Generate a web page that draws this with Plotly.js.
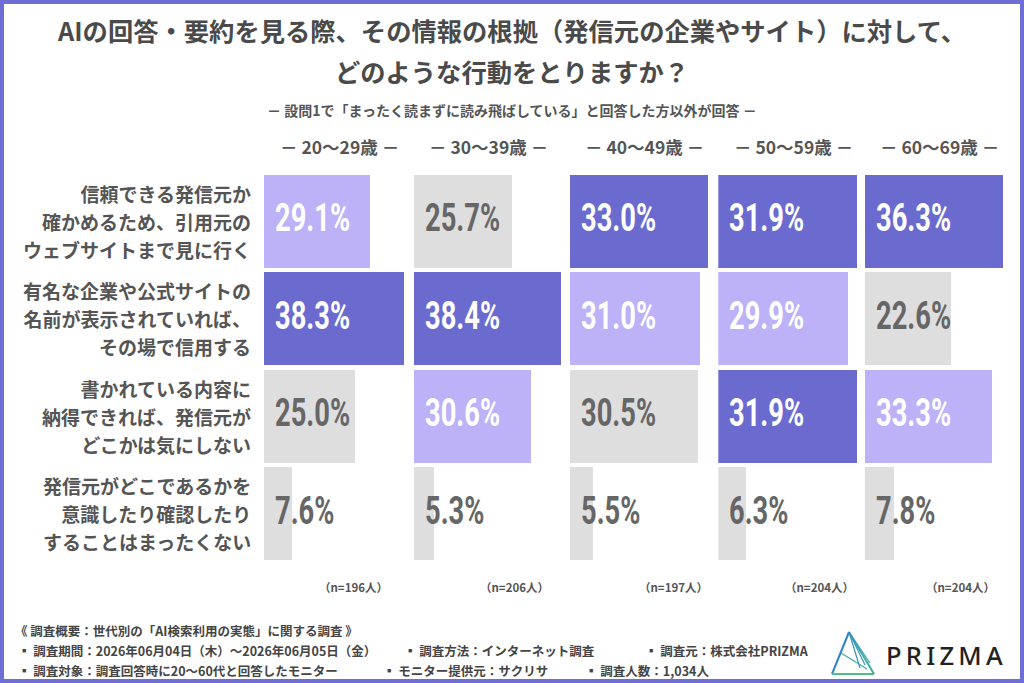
<!DOCTYPE html>
<html>
<head>
<meta charset="utf-8">
<script src="https://cdn.plot.ly/plotly-3.0.1.min.js"></script>
<style>
  html, body { margin: 0; padding: 0; background: #fff; }
  #chart { width: 1024px; height: 683px; }
</style>
</head>
<body>
<div id="chart"></div>
<script>
// ---- survey data ----
const ageGroups = ['20～29歳', '30～39歳', '40～49歳', '50～59歳', '60～69歳'];
const sampleSizes = [196, 206, 197, 204, 204];

const responses = [
  ['信頼できる発信元か', '確かめるため、引用元の', 'ウェブサイトまで見に行く'],
  ['有名な企業や公式サイトの', '名前が表示されていれば、', 'その場で信用する'],
  ['書かれている内容に', '納得できれば、発信元が', 'どこかは気にしない'],
  ['発信元がどこであるかを', '意識したり確認したり', 'することはまったくない']
];

// share (%) of each response, one array per age group (same order as responses)
const age20s = [29.1, 38.3, 25.0, 7.6];
const age30s = [25.7, 38.4, 30.6, 5.3];
const age40s = [33.0, 31.0, 30.5, 5.5];
const age50s = [31.9, 29.9, 31.9, 6.3];
const age60s = [36.3, 22.6, 33.3, 7.8];
const seriesByAge = [age20s, age30s, age40s, age50s, age60s];

const titleLines = ['AIの回答・要約を見る際、その情報の根拠（発信元の企業やサイト）に対して、', 'どのような行動をとりますか？'];
const subtitle = '－ 設問1で「まったく読まずに読み飛ばしている」と回答した方以外が回答 －';
const footerLines = [
  ['《 調査概要：世代別の「AI検索利用の実態」に関する調査 》'],
  ['▪ 調査期間：2026年06月04日（木）～2026年06月05日（金）', '▪ 調査方法：インターネット調査', '▪ 調査元：株式会社PRIZMA'],
  ['▪ 調査対象：調査回答時に20～60代と回答したモニター', '▪ モニター提供元：サクリサ', '▪ 調査人数：1,034人']
];
const brandName = 'PRIZMA';

// ---- geometry (page pixels -> paper fractions) ----
const W = 1024, H = 683;
const px = x => x / W;
const py = y => 1 - y / H;

const colStart = [264, 413.5, 569.5, 718.3, 864.8];   // left edge of each age column
const colScale = [3.65, 3.845, 4.2, 4.335, 3.805];     // pixels per percentage point
const nRight = [390, 551, 710, 856, 997];              // right edge of the n= notes
const footerX = [[13], [16, 402, 643], [16, 381, 583]];
const footerY = [630, 650, 670];
const X_MAX = 40;
const NUM_SQUEEZE = 0.7;                               // horizontal squeeze for condensed figures

const DARK = '#6b6bcf';
const LIGHT = '#bdb1f8';
const GRAY = '#dedede';
const TEXT = '#555555';
const CJK = '"Noto Sans CJK JP", "Noto Sans CJK SC", sans-serif';
const NUM = 'Roboto, "Liberation Sans", sans-serif';

// highest share in a column is dark, runner-up light, the rest gray
function shadeFor(values) {
  const ranked = [...new Set(values)].sort((a, b) => b - a);
  return values.map(v => v === ranked[0] ? DARK : (v === ranked[1] ? LIGHT : GRAY));
}

const rowIdx = responses.map((_, i) => i);
const traces = [];
const annotations = [];
const layout = {
  width: W, height: H,
  margin: { l: 0, r: 0, t: 0, b: 0 },
  paper_bgcolor: '#ffffff',
  plot_bgcolor: 'rgba(0,0,0,0)',
  showlegend: false,
  bargap: 0,
  yaxis: {
    domain: [py(562.5), py(172.5)],
    range: [3.5, -0.5],
    visible: false,
    fixedrange: true,
    anchor: 'x'
  },
  title: {
    text: titleLines.map(l => '<span style="font-size:25.3px">' + l + '</span>').join('<br>'),
    font: { family: CJK, size: 31.5, color: '#4a4a4a', weight: 'bold' },
    x: 0.5, xanchor: 'center',
    y: py(41), yref: 'paper', yanchor: 'middle'
  }
};

seriesByAge.forEach((vals, i) => {
  const xa = i === 0 ? 'x' : 'x' + (i + 1);
  const axisKey = i === 0 ? 'xaxis' : 'xaxis' + (i + 1);
  const colors = shadeFor(vals);

  layout[axisKey] = {
    domain: [px(colStart[i]), px(colStart[i] + X_MAX * colScale[i])],
    range: [0, X_MAX],
    visible: false,
    fixedrange: true,
    anchor: 'y'
  };

  traces.push({
    type: 'bar',
    orientation: 'h',
    x: vals,
    y: rowIdx,
    xaxis: xa,
    yaxis: 'y',
    width: 0.95,
    marker: { color: colors, line: { width: 0 } },
    hoverinfo: 'skip',
    name: ageGroups[i]
  });

  // value labels, anchored at the bar base
  vals.forEach((v, r) => {
    annotations.push({
      xref: xa, yref: 'y', x: 0, y: r,
      xanchor: 'left', yanchor: 'middle', xshift: 9, yshift: 3,
      text: v.toFixed(1) + '%',
      showarrow: false,
      font: { family: NUM, size: 39, weight: 'bold', color: colors[r] === GRAY ? '#666666' : '#ffffff' }
    });
  });

  // column header
  annotations.push({
    xref: 'paper', yref: 'paper', x: px(colStart[i] + 75), y: py(147),
    xanchor: 'center', yanchor: 'middle',
    text: '－ ' + ageGroups[i] + ' －',
    showarrow: false,
    font: { family: CJK, size: 17.5, weight: 'bold', color: TEXT }
  });

  // sample size note
  annotations.push({
    xref: 'paper', yref: 'paper', x: px(nRight[i]), y: py(587),
    xanchor: 'right', yanchor: 'middle',
    text: '（n=' + sampleSizes[i] + '人）',
    showarrow: false,
    font: { family: CJK, size: 11.5, weight: 'bold', color: TEXT }
  });
});

// response labels on the left
responses.forEach((lines, r) => {
  annotations.push({
    xref: 'paper', yref: 'y', x: px(253), y: r,
    xanchor: 'right', yanchor: 'middle', align: 'right',
    text: lines.map(l => '<span style="font-size:19px">' + l + '</span>').join('<br>'),
    showarrow: false,
    font: { family: CJK, size: 21.5, weight: 'bold', color: TEXT }
  });
});

// subtitle
annotations.push({
  xref: 'paper', yref: 'paper', x: 0.5, y: py(110),
  xanchor: 'center', yanchor: 'middle',
  text: subtitle, showarrow: false,
  font: { family: CJK, size: 14, weight: 'bold', color: TEXT }
});

// survey notes
footerLines.forEach((items, li) => {
  items.forEach((t, k) => {
    annotations.push({
      xref: 'paper', yref: 'paper', x: px(footerX[li][k]), y: py(footerY[li]),
      xanchor: 'left', yanchor: 'middle',
      text: t, showarrow: false,
      font: { family: CJK, size: 12.5, weight: 'bold', color: '#444444' }
    });
  });
});

// brand wordmark
annotations.push({
  xref: 'paper', yref: 'paper', x: px(884), y: py(655),
  xanchor: 'left', yanchor: 'middle',
  text: brandName.split('').join('\u2009'),
  showarrow: false,
  font: { family: '"Noto Sans", "DejaVu Sans", sans-serif', size: 25.5, weight: 500, color: '#222222' }
});

layout.annotations = annotations;

// logo triangle and page frame
function path(points) {
  return 'M ' + points.map(p => px(p[0]) + ',' + py(p[1])).join(' L ');
}
const apex = [849, 632], bl = [832, 674], br = [874, 674];
const shapes = [
  { type: 'rect', xref: 'paper', yref: 'paper', x0: px(2), x1: px(1022), y0: py(681), y1: py(2),
    line: { color: '#6f6dd6', width: 4 }, fillcolor: 'rgba(0,0,0,0)' },
  { type: 'path', xref: 'paper', yref: 'paper', path: path([bl, apex]), line: { color: '#2f84c4', width: 2 } },
  { type: 'path', xref: 'paper', yref: 'paper', path: path([bl, br]), line: { color: '#4fbf86', width: 2 } },
  { type: 'path', xref: 'paper', yref: 'paper', path: path([apex, br]), line: { color: '#3fae9c', width: 2 } },
  { type: 'path', xref: 'paper', yref: 'paper', path: path([apex, [870, 663]]), line: { color: '#3a9dbc', width: 1.2 } },
  { type: 'path', xref: 'paper', yref: 'paper', path: path([apex, [865, 665]]), line: { color: '#3896b8', width: 1.2 } },
  { type: 'path', xref: 'paper', yref: 'paper', path: path([apex, [860, 668]]), line: { color: '#3a8fb6', width: 1.2 } },
  { type: 'path', xref: 'paper', yref: 'paper', path: path([[841, 653], [867, 669]]), line: { color: '#44a7a4', width: 1.2 } }
];
layout.shapes = shapes;

Plotly.newPlot('chart', traces, layout, { staticPlot: true, displayModeBar: false }).then(gd => {
  // narrow the percentage figures, keeping their left edge in place
  gd.querySelectorAll('.annotation-text').forEach(t => {
    if (!/%$/.test(t.textContent)) return;
    const b = t.getBBox();
    t.setAttribute('transform', 'translate(' + (b.x * (1 - NUM_SQUEEZE)) + ',0) scale(' + NUM_SQUEEZE + ',1)');
  });
});
</script>
</body>
</html>
